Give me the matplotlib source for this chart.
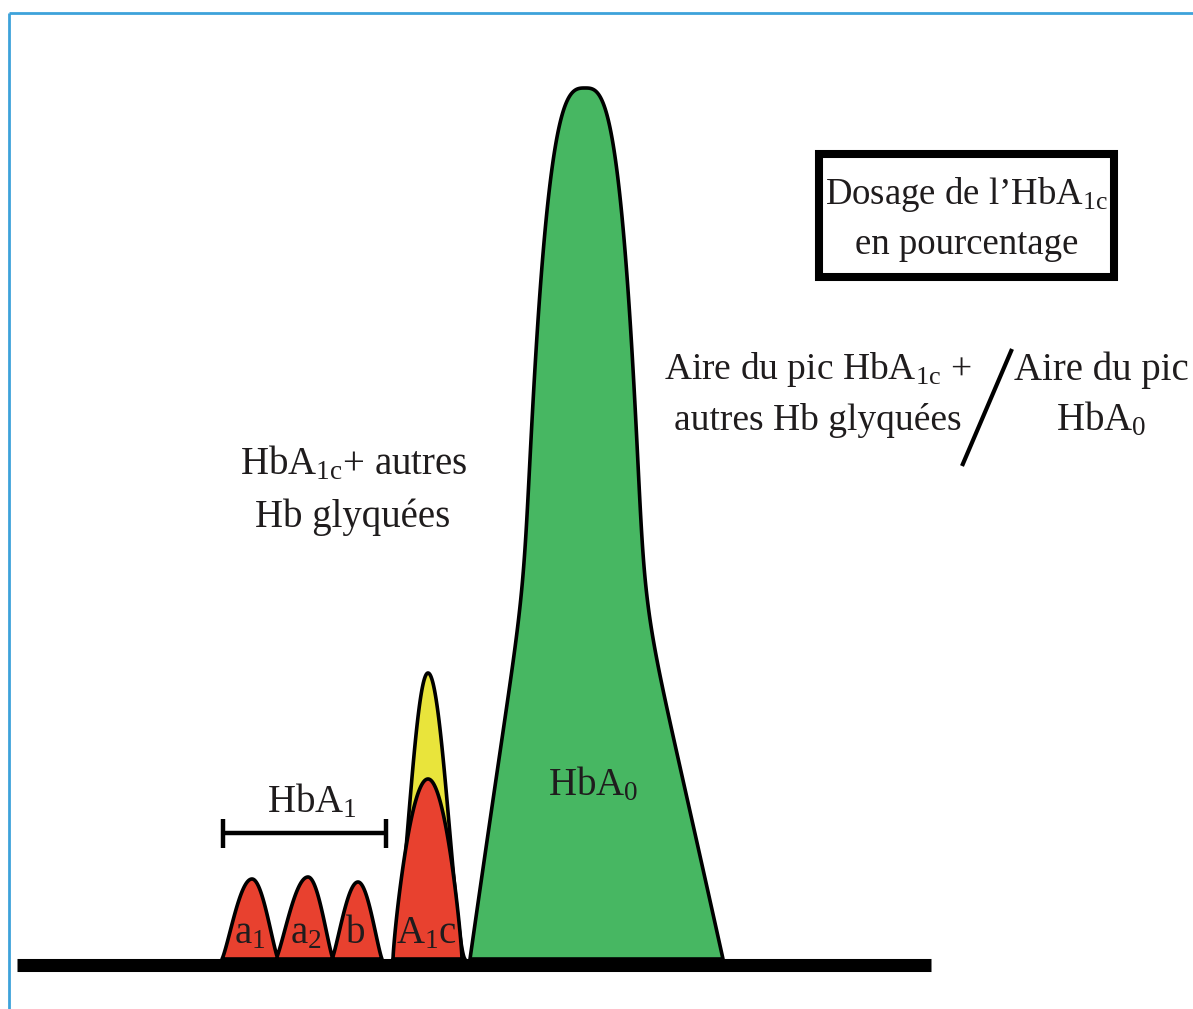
import numpy as np
import matplotlib.pyplot as plt
from matplotlib.patches import Rectangle

plt.rcParams['font.family'] = ['Liberation Serif', 'DejaVu Serif']
plt.rcParams['mathtext.fontset'] = 'custom'
plt.rcParams['mathtext.rm'] = 'Liberation Serif'
plt.rcParams['mathtext.it'] = 'Liberation Serif:italic'
plt.rcParams['mathtext.default'] = 'regular'

# chromatogram peaks (x = retention, heights above baseline)
base_y = 959
minor_labels = ['a$_1$', 'a$_2$', 'b']
minor_pos = [252, 308, 358]
minor_height = [80, 82, 77]
minor_wl = [30, 32, 26]
minor_wr = [26, 25, 24]

a1c_pos = 428
a1c_height = 180      # HbA1c alone (red)
glyc_height = 286     # HbA1c + other glycated Hb (yellow)
a1c_w = (35, 34)
glyc_w = (35, 37)

hba0_pos = 585
hba0_height = 871
hba0_top_w = (73, 70)
hba0_foot_w = (42, 68)
hba0_foot_frac = (0.42, 0.40)

RED = '#E8412F'
YELLOW = '#E9E43B'
GREEN = '#47B762'
TXT = '#1F1C1D'
LW = 2.6


def bump(u, p=1.2):
    u = np.clip(u, 0, 1)
    return np.cos(np.pi * u / 2) ** p


def softplus(z, s=0.04):
    return s * np.log1p(np.exp(z / s))


def peak_poly(c, h, wl, wr, p, n=150):
    u = np.linspace(0, 1, n)
    f = bump(u, p)
    xl = c - wl * u[::-1]
    yl = base_y - h * f[::-1]
    xr = c + wr * u
    yr = base_y - h * f
    return np.concatenate([xl, xr]), np.concatenate([yl, yr])


fig = plt.figure(figsize=(11.93, 10.09), dpi=100)
ax = fig.add_axes([0, 0, 1, 1])
ax.set_xlim(0, 1193)
ax.set_ylim(1009, 0)
ax.axis('off')

# frame
ax.plot([9, 9], [1009, 13], color='#3DA2DA', lw=2, solid_capstyle='butt')
ax.plot([9, 1193], [13, 13], color='#3DA2DA', lw=2, solid_capstyle='butt')

# HbA1 group (a1, a2, b) as one merged trace
x = np.linspace(min(np.subtract(minor_pos, minor_wl)),
                max(np.add(minor_pos, minor_wr)), 800)
h = np.zeros_like(x)
for c, hh, wl, wr in zip(minor_pos, minor_height, minor_wl, minor_wr):
    d = x - c
    w = np.where(d < 0, wl, wr)
    h = np.maximum(h, hh * bump(np.abs(d) / w))
ax.fill(x, base_y - h, facecolor=RED, edgecolor='black', lw=LW, joinstyle='round')

# HbA1c peak: yellow total, red HbA1c
xs, ys = peak_poly(a1c_pos, glyc_height, glyc_w[0], glyc_w[1], 1.6)
ax.fill(xs, ys, facecolor=YELLOW, edgecolor='black', lw=LW, joinstyle='round')
xs, ys = peak_poly(a1c_pos, a1c_height, a1c_w[0], a1c_w[1], 0.8)
ax.fill(xs, ys, facecolor=RED, edgecolor='black', lw=LW, joinstyle='round')

# HbA0 peak: rounded narrow top with a flared foot
t = np.linspace(0, 1, 400)
f = 1 - t ** 3
foot_l = softplus(hba0_foot_frac[0] - f) / softplus(hba0_foot_frac[0])
foot_r = softplus(hba0_foot_frac[1] - f) / softplus(hba0_foot_frac[1])
dl = hba0_top_w[0] * t + hba0_foot_w[0] * foot_l
dr = hba0_top_w[1] * t + hba0_foot_w[1] * foot_r
gx = np.concatenate([hba0_pos - dl[::-1], hba0_pos + dr])
gy = np.concatenate([base_y - hba0_height * f[::-1], base_y - hba0_height * f])
ax.fill(gx, gy, facecolor=GREEN, edgecolor='black', lw=LW, joinstyle='round')

# baseline
ax.plot([17, 931], [964.5, 964.5], color='black', lw=9.4, solid_capstyle='butt', zorder=5)

# peak labels
fs = 28
for lab, c in zip(minor_labels, [250, 306, 356]):
    ax.text(c, 943, lab, ha='center', va='baseline', fontsize=fs, color=TXT, zorder=6)
ax.text(427, 943, 'A$_1$c', ha='center', va='baseline', fontsize=fs, color=TXT, zorder=6)
ax.text(593, 795, 'HbA$_0$', ha='center', va='baseline', fontsize=fs, color=TXT)

# HbA1 bracket
ax.plot([223, 386], [833, 833], color='black', lw=3.2, solid_capstyle='butt')
ax.plot([223, 223], [819, 848], color='black', lw=3.2, solid_capstyle='butt')
ax.plot([386, 386], [819, 848], color='black', lw=3.2, solid_capstyle='butt')
ax.text(312, 812, 'HbA$_1$', ha='center', va='baseline', fontsize=fs, color=TXT)

# annotations
ax.text(354, 474, 'HbA$_{1c}$+ autres', ha='center', va='baseline', fontsize=fs, color=TXT)
ax.text(353, 527, 'Hb glyquées', ha='center', va='baseline', fontsize=fs, color=TXT)

ax.text(818, 379, 'Aire du pic HbA$_{1c}$ +', ha='center', va='baseline', fontsize=27, color=TXT)
ax.text(818, 430, 'autres Hb glyquées', ha='center', va='baseline', fontsize=27, color=TXT)
ax.plot([1012, 962], [349, 466], color='black', lw=3, solid_capstyle='butt')
ax.text(1101, 380, 'Aire du pic', ha='center', va='baseline', fontsize=fs, color=TXT)
ax.text(1101, 430, 'HbA$_0$', ha='center', va='baseline', fontsize=fs, color=TXT)

# boxed title
ax.add_patch(Rectangle((819, 154), 295, 123, fill=False, edgecolor='black', lw=5.8))
ax.text(967, 204, 'Dosage de l’HbA$_{1c}$', ha='center', va='baseline', fontsize=26.5, color=TXT)
ax.text(967, 254, 'en pourcentage', ha='center', va='baseline', fontsize=26.5, color=TXT)

plt.savefig('out.png', dpi=100)
